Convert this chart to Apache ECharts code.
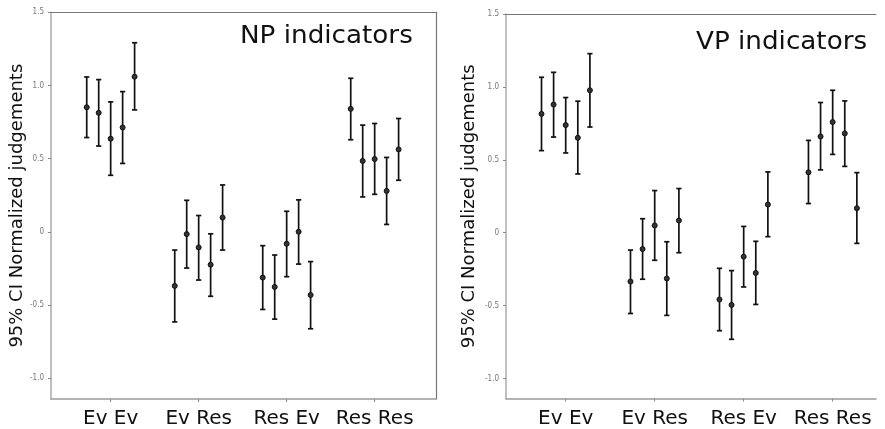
<!DOCTYPE html>
<html>
<head>
<meta charset="utf-8">
<script src="https://cdn.jsdelivr.net/npm/echarts@6/dist/echarts.min.js"></script>
<style>
  html, body { margin: 0; padding: 0; background: #fff; }
  #chart { width: 885px; height: 429px; }
</style>
</head>
<body>
<div id="chart"></div>
<script>
// ---- data ----
const categories = ['Ev Ev', 'Ev Res', 'Res Ev', 'Res Res'];
const yTickValues = [-1, -0.5, 0, 0.5, 1, 1.5];
const yTickLabels = ['-1.0', '-0.5', '0', '0.5', '1.0', '1.5'];
const panelTitles = ['NP indicators', 'VP indicators'];
const yAxisTitle = '95% CI Normalized judgements';

// NP indicators (5 items per category, in category order)
const npMean  = [0.851, 0.813, 0.636, 0.713, 1.060,  -0.370, -0.016, -0.107, -0.225, 0.097,  -0.313, -0.377, -0.082, 0.000, -0.432,  0.840, 0.484, 0.497, 0.279, 0.563];
const npLower = [0.644, 0.586, 0.386, 0.467, 0.833,  -0.616, -0.248, -0.330, -0.441, -0.125, -0.531, -0.597, -0.307, -0.221, -0.663, 0.629, 0.238, 0.256, 0.050, 0.352];
const npUpper = [1.058, 1.040, 0.888, 0.958, 1.292,  -0.125, 0.215, 0.111, -0.014, 0.320,   -0.095, -0.159, 0.140, 0.218, -0.204,  1.049, 0.729, 0.740, 0.508, 0.774];

// VP indicators
const vpMean  = [0.815, 0.879, 0.738, 0.651, 0.977,  -0.335, -0.112, 0.050, -0.314, 0.084,   -0.458, -0.495, -0.164, -0.276, 0.193,  0.414, 0.660, 0.759, 0.681, 0.168];
const vpLower = [0.563, 0.656, 0.547, 0.403, 0.725,  -0.554, -0.319, -0.189, -0.567, -0.137, -0.672, -0.731, -0.372, -0.492, -0.027, 0.200, 0.431, 0.537, 0.455, -0.073];
const vpUpper = [1.066, 1.100, 0.927, 0.902, 1.228,  -0.119, 0.096, 0.289, -0.062, 0.303,   -0.244, -0.260, 0.043, -0.059, 0.417,  0.633, 0.893, 0.977, 0.904, 0.412];

// ---- build ----
const perGroup = 5;
const offsetStep = 0.136;
function buildData(mean, lower, upper) {
  return mean.map((m, i) => {
    const g = Math.floor(i / perGroup);
    const j = i % perGroup;
    return [g + (j - (perGroup - 1) / 2) * offsetStep, m, lower[i], upper[i]];
  });
}

function renderItem(params, api) {
  const x = api.value(0);
  const p = api.coord([x, api.value(1)]);
  const lo = api.coord([x, api.value(2)]);
  const hi = api.coord([x, api.value(3)]);
  const cap = 2.6;
  const ls = { stroke: '#111', lineWidth: 1.7 };
  return {
    type: 'group',
    children: [
      { type: 'line', shape: { x1: p[0], y1: hi[1], x2: p[0], y2: lo[1] }, style: ls },
      { type: 'line', shape: { x1: p[0] - cap, y1: hi[1], x2: p[0] + cap, y2: hi[1] }, style: ls },
      { type: 'line', shape: { x1: p[0] - cap, y1: lo[1], x2: p[0] + cap, y2: lo[1] }, style: ls },
      { type: 'circle', shape: { cx: p[0], cy: p[1], r: 2.5 }, style: { fill: '#333', stroke: '#111', lineWidth: 1 } }
    ]
  };
}

const tickFont = { fontFamily: 'DejaVu Sans Condensed', fontSize: 8, color: '#777' };

function bottomX(gridIndex, min, max) {
  return {
    type: 'value', gridIndex, min, max, position: 'bottom',
    splitLine: { show: false },
    axisLine: { show: true, onZero: false, lineStyle: { color: '#9a9a9a', width: 1.5 } },
    axisTick: { show: true, customValues: [0, 1, 2, 3], length: 3, lineStyle: { color: '#888' } },
    axisLabel: {
      show: true, customValues: [0, 1, 2, 3], margin: 10,
      fontFamily: 'DejaVu Sans', fontSize: 20, color: '#111',
      formatter: v => categories[Math.round(v)]
    }
  };
}
function topX(gridIndex, min, max) {
  return {
    type: 'value', gridIndex, min, max, position: 'top',
    splitLine: { show: false },
    axisLine: { show: true, onZero: false, lineStyle: { color: '#777', width: 1.2 } },
    axisTick: { show: false }, axisLabel: { show: false }
  };
}
function leftY(gridIndex, min, max, nameGap) {
  return {
    type: 'value', gridIndex, min, max, position: 'left',
    splitLine: { show: false },
    axisLine: { show: true, onZero: false, lineStyle: { color: '#aaa', width: 1.5 } },
    axisTick: { show: true, customValues: yTickValues, length: 3, lineStyle: { color: '#888' } },
    axisLabel: {
      show: true, customValues: yTickValues, margin: 7, ...tickFont,
      formatter: v => {
        const k = yTickValues.findIndex(t => Math.abs(t - v) < 1e-6);
        return k >= 0 ? yTickLabels[k] : '';
      }
    },
    name: yAxisTitle, nameLocation: 'middle', nameGap: nameGap,
    nameTextStyle: { fontFamily: 'DejaVu Sans', fontSize: 18, color: '#111' }
  };
}

const chart = echarts.init(document.getElementById('chart'), null, { renderer: 'canvas' });
chart.setOption({
  animation: false,
  backgroundColor: '#fff',
  grid: [
    { left: 51, top: 12.3, width: 385, height: 387.7 },
    { left: 506, top: 14, width: 370, height: 384.5 }
  ],
  xAxis: [
    bottomX(0, -0.678, 3.697),
    topX(0, -0.678, 3.697),
    bottomX(1, -0.671, 3.487),
    topX(1, -0.671, 3.487)
  ],
  yAxis: [
    leftY(0, -1.143, 1.5, 25),
    {
      type: 'value', gridIndex: 0, min: -1.143, max: 1.5, position: 'right',
      splitLine: { show: false },
      axisLine: { show: true, onZero: false, lineStyle: { color: '#777', width: 1.2 } },
      axisTick: { show: false }, axisLabel: { show: false }
    },
    leftY(1, -1.137, 1.5, 28)
  ],
  graphic: [
    { type: 'text', x: 240, y: 37, scaleX: 1.07, style: { text: panelTitles[0], font: '24.5px "DejaVu Sans"', fill: '#111', align: 'left', verticalAlign: 'middle' } },
    { type: 'text', x: 696, y: 42.5, scaleX: 1.07, style: { text: panelTitles[1], font: '24.5px "DejaVu Sans"', fill: '#111', align: 'left', verticalAlign: 'middle' } }
  ],
  series: [
    { type: 'custom', xAxisIndex: 0, yAxisIndex: 0, renderItem, data: buildData(npMean, npLower, npUpper), clip: false },
    { type: 'custom', xAxisIndex: 2, yAxisIndex: 2, renderItem, data: buildData(vpMean, vpLower, vpUpper), clip: false }
  ]
});
</script>
</body>
</html>
